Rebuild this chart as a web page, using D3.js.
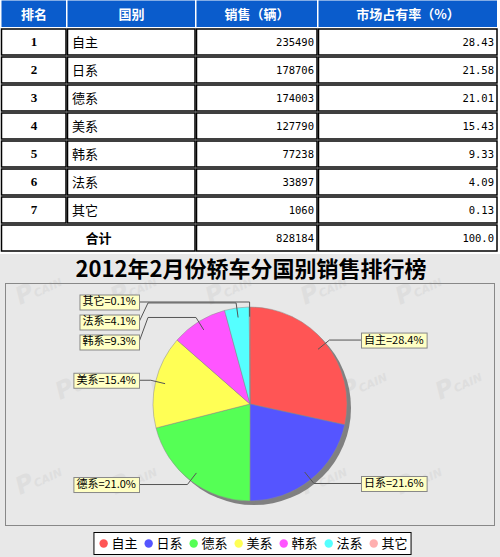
<!DOCTYPE html>
<html>
<head>
<meta charset="utf-8">
<script src="https://cdn.jsdelivr.net/npm/d3@7"></script>
<style>
  body { margin: 0; background: #fff; }
  svg { display: block; }
</style>
</head>
<body>
<script>
// table + pie data
const headers = ["排名", "国别", "销售（辆）", "市场占有率（%）"];
const ranks = [1, 2, 3, 4, 5, 6, 7];
const countries = ["自主", "日系", "德系", "美系", "韩系", "法系", "其它"];
const sales = [235490, 178706, 174003, 127790, 77238, 33897, 1060];
const shares = ["28.43", "21.58", "21.01", "15.43", "9.33", "4.09", "0.13"];
const totalLabel = "合计";
const totalSales = 828184;
const totalShare = "100.0";
const title = "2012年2月份轿车分国别销售排行榜";
const colors = ["#ff5555", "#5555ff", "#55ff55", "#ffff55", "#ff55ff", "#55ffff", "#ffafaf"];

const W = 500, H = 557;
const svg = d3.select("body").append("svg").attr("width", W).attr("height", H);

// ---------- table ----------
const colEdges = [1, 67, 196, 318, 498];
const rowH = 28;
const numFont = "'DejaVu Sans Mono', monospace";
const cjkFont = "'Noto Sans CJK SC', sans-serif";

const table = svg.append("g").attr("class", "table");

// header
headers.forEach((h, i) => {
  table.append("rect")
    .attr("x", colEdges[i] + 0.5).attr("y", 0.5)
    .attr("width", colEdges[i + 1] - colEdges[i] - 1.5).attr("height", rowH - 1.5)
    .attr("fill", "#0a5ccc");
  table.append("text")
    .attr("x", (colEdges[i] + colEdges[i + 1]) / 2).attr("y", rowH / 2 + 1)
    .attr("text-anchor", "middle").attr("dominant-baseline", "middle")
    .attr("font-family", cjkFont).attr("font-weight", "bold").attr("font-size", 13)
    .attr("fill", "#fff").text(h);
});

function cell(x0, x1, y0) {
  table.append("rect")
    .attr("x", x0 + 0.5).attr("y", y0 + 1)
    .attr("width", x1 - x0 - 1.5).attr("height", rowH - 2)
    .attr("fill", "#fff").attr("stroke", "#000").attr("stroke-width", 1.5);
}

function numText(x, y, v) {
  table.append("text")
    .attr("x", x).attr("y", y)
    .attr("text-anchor", "end").attr("dominant-baseline", "middle")
    .attr("font-family", numFont).attr("font-size", 10.5)
    .text(v);
}

ranks.forEach((r, i) => {
  const y0 = rowH * (i + 1);
  for (let c = 0; c < 4; c++) cell(colEdges[c], colEdges[c + 1], y0);
  const cy = y0 + rowH / 2 + 1;
  table.append("text")
    .attr("x", (colEdges[0] + colEdges[1]) / 2).attr("y", cy)
    .attr("text-anchor", "middle").attr("dominant-baseline", "middle")
    .attr("font-family", "'Liberation Serif', serif").attr("font-weight", "bold").attr("font-size", 13)
    .text(r);
  table.append("text")
    .attr("x", colEdges[1] + 5).attr("y", cy)
    .attr("dominant-baseline", "middle")
    .attr("font-family", cjkFont).attr("font-size", 13)
    .text(countries[i]);
  numText(colEdges[3] - 4, cy, sales[i]);
  numText(colEdges[4] - 4, cy, shares[i]);
});

// total row
const yt = rowH * 8;
cell(colEdges[0], colEdges[2], yt);
cell(colEdges[2], colEdges[3], yt);
cell(colEdges[3], colEdges[4], yt);
table.append("text")
  .attr("x", (colEdges[0] + colEdges[2]) / 2).attr("y", yt + rowH / 2 + 1)
  .attr("text-anchor", "middle").attr("dominant-baseline", "middle")
  .attr("font-family", cjkFont).attr("font-weight", "bold").attr("font-size", 13)
  .text(totalLabel);
numText(colEdges[3] - 4, yt + rowH / 2 + 1, totalSales);
numText(colEdges[4] - 4, yt + rowH / 2 + 1, totalShare);

// ---------- chart ----------
const chartTop = 254;
const chart = svg.append("g");
chart.append("rect").attr("x", 0).attr("y", chartTop).attr("width", W).attr("height", H - chartTop)
  .attr("fill", "#e8e8e8");

// faint watermarks
const wm = chart.append("g").attr("fill", "#dedede").attr("font-family", "'DejaVu Sans', sans-serif")
  .attr("font-style", "italic").attr("font-weight", "bold");
[305, 400, 495].forEach((wy, ri) => {
  d3.range(0, 5).forEach(ci => {
    const wx = 20 + ci * 95 + (ri % 2) * 40;
    if (wx > 440) return;
    const t = wm.append("text").attr("transform", `translate(${wx},${wy}) rotate(-25)`).attr("font-size", 11);
    t.append("tspan").attr("font-size", 24).text("P");
    t.append("tspan").text("CAIN");
  });
});

chart.append("text")
  .attr("x", 251).attr("y", 277)
  .attr("text-anchor", "middle")
  .attr("font-family", cjkFont).attr("font-weight", "bold").attr("font-size", 22)
  .attr("fill", "#000").text(title);

// plot area
chart.append("rect").attr("x", 5.5).attr("y", 283.5).attr("width", 489).attr("height", 242)
  .attr("fill", "none").attr("stroke", "#888").attr("stroke-width", 1);

// pie
const cx = 250, cy = 404, r = 97;
const linkR = 102, linkPct = 0.9, gap = 9;
const total = d3.sum(sales);
const arcs = d3.pie().sort(null).value(d => d)(sales);
const arc = d3.arc().innerRadius(0).outerRadius(r);

const pieG = chart.append("g").attr("transform", `translate(${cx},${cy})`);
pieG.append("circle").attr("cx", 4).attr("cy", 4).attr("r", r).attr("fill", "#808080");
pieG.selectAll("path.slice").data(arcs).join("path")
  .attr("class", "slice")
  .attr("d", arc)
  .attr("fill", (d, i) => colors[i])
  .attr("stroke", "#8a8a8a").attr("stroke-width", 0.5);

// label layout (JFreeChart style)
const labels = arcs.map((d, i) => {
  const a = (d.startAngle + d.endAngle) / 2;
  const pct = (sales[i] / total * 100).toFixed(1);
  return {
    i, a,
    left: Math.sin(a) < 0,
    text: countries[i] + "=" + pct + "%",
    baseY: cy - Math.cos(a) * linkR
  };
});
const spacing = 20;
[true, false].forEach(side => {
  const group = labels.filter(l => l.left === side).sort((p, q) => p.baseY - q.baseY);
  let prev = -Infinity;
  group.forEach(l => {
    l.y = Math.max(l.baseY, prev + spacing);
    prev = l.y;
  });
});

const labG = chart.append("g");
labels.forEach(l => {
  const linkX = cx + Math.sin(l.a) * r * linkPct;
  const linkY = cy - Math.cos(l.a) * r * linkPct;
  const elbowX = cx + Math.sin(l.a) * linkR;
  const anchorX = l.left ? cx - linkR : cx + linkR;
  const targetX = l.left ? anchorX - gap : anchorX + gap;
  labG.append("path")
    .attr("d", d3.line()([[linkX, linkY], [elbowX, l.baseY], [anchorX, l.baseY], [targetX, l.y]]))
    .attr("fill", "none").attr("stroke", "#555").attr("stroke-width", 1);

  const g = labG.append("g");
  const t = g.append("text")
    .attr("font-family", cjkFont).attr("font-size", 11)
    .attr("dominant-baseline", "middle").attr("y", l.y + 0.5)
    .text(l.text);
  const tw = t.node().getComputedTextLength();
  const bw = tw + 6, bh = 15;
  const bx = l.left ? targetX - bw : targetX;
  t.attr("x", bx + 3);
  g.insert("rect", "text")
    .attr("x", bx + 0.5).attr("y", l.y - bh / 2 + 0.5)
    .attr("width", bw).attr("height", bh)
    .attr("fill", "#ffffc4").attr("stroke", "#888").attr("stroke-width", 1);
});

// legend
const legG = chart.append("g");
const legY = 543.5;
const items = legG.selectAll("g.item").data(countries).join("g").attr("class", "item");
items.append("circle").attr("r", 4.2).attr("cy", legY).attr("fill", (d, i) => colors[i]);
items.append("text")
  .attr("font-family", cjkFont).attr("font-size", 13)
  .attr("dominant-baseline", "middle").attr("y", legY + 0.5)
  .text(d => d);
let lx = 0;
items.each(function () {
  const it = d3.select(this);
  const tw = it.select("text").node().getComputedTextLength();
  it.select("circle").attr("cx", lx + 4.2);
  it.select("text").attr("x", lx + 12);
  lx += 12 + tw + 7;
});
const legW = lx + 2;
const legX = 253 - legW / 2;
legG.insert("rect", "g")
  .attr("x", legX - 0.5).attr("y", 532.5).attr("width", legW).attr("height", 22)
  .attr("fill", "#fff").attr("stroke", "#000").attr("stroke-width", 1);
items.attr("transform", `translate(${legX + 5},0)`);
</script>
</body>
</html>
